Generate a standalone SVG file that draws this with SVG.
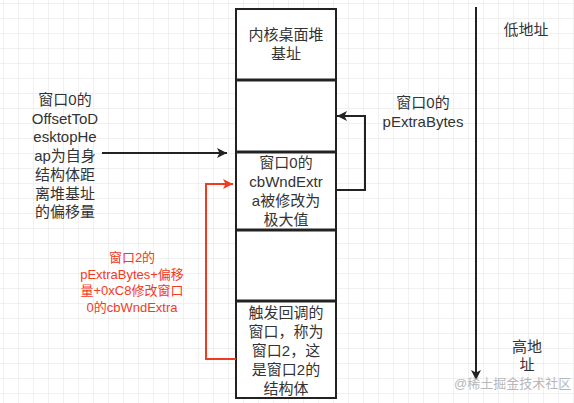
<svg xmlns="http://www.w3.org/2000/svg" width="574" height="403" viewBox="0 0 574 403">
<defs>
<pattern id="grid" x="3" y="3" width="15" height="15" patternUnits="userSpaceOnUse">
<path d="M15 0H0V15" fill="none" stroke="#e4e4e4" stroke-width="1"/>
</pattern>
<marker id="ab" viewBox="0 0 10 10" refX="10" refY="5" markerWidth="10" markerHeight="10" markerUnits="userSpaceOnUse" orient="auto">
<path d="M0 0L10 5L0 10L2.5 5Z" fill="#222"/>
</marker>
<marker id="ar" viewBox="0 0 10 10" refX="10" refY="5" markerWidth="10" markerHeight="10" markerUnits="userSpaceOnUse" orient="auto">
<path d="M0 0L10 5L0 10L2.5 5Z" fill="#f23a1f"/>
</marker>
</defs>
<style>
text{font-family:"Liberation Sans","Noto Sans CJK SC",sans-serif;font-size:15px;fill:#333;text-anchor:middle}
.red{fill:#f23a1f;font-size:13px}
.cell{fill:#fff;stroke:#222;stroke-width:2}
.div{stroke:#222;stroke-width:3}
.wm{fill:#b8b8b8;font-size:13px;text-anchor:start}
</style>
<rect width="574" height="403" fill="#fff"/>
<rect width="574" height="403" fill="url(#grid)"/>
<g id="cell-heap-base">
<rect class="cell" x="236" y="9" width="100" height="71"/>
<text x="286" y="40">内核桌面堆</text>
<text x="286" y="59">基址</text>
</g>
<g id="cell-empty1">
<rect class="cell" x="236" y="80" width="100" height="72"/>
</g>
<g id="cell-cbwndextra">
<rect class="cell" x="236" y="152" width="100" height="78"/>
<text x="286" y="168">窗口0的</text>
<text x="286" y="187">cbWndExtr</text>
<text x="286" y="206">a被修改为</text>
<text x="286" y="225">极大值</text>
</g>
<g id="cell-empty2">
<rect class="cell" x="236" y="230" width="100" height="71"/>
</g>
<g id="cell-window2">
<rect class="cell" x="236" y="301" width="100" height="97"/>
<text x="286" y="318">触发回调的</text>
<text x="286" y="337">窗口，称为</text>
<text x="286" y="356">窗口2，这</text>
<text x="286" y="375">是窗口2的</text>
<text x="286" y="394">结构体</text>
</g>
<g id="dividers">
<path class="div" d="M235 80H337M235 152H337M235 230H337M235 301H337"/>
</g>
<g id="label-offset">
<text x="65" y="105">窗口0的</text>
<text x="65" y="123.5">OffsetToD</text>
<text x="65" y="142">esktopHe</text>
<text x="65" y="161">ap为自身</text>
<text x="65" y="180">结构体距</text>
<text x="65" y="198.5">离堆基址</text>
<text x="65" y="217">的偏移量</text>
</g>
<g id="label-pextrabytes">
<text x="423" y="108">窗口0的</text>
<text x="423" y="127">pExtraBytes</text>
</g>
<g id="label-red">
<text class="red" x="132" y="262">窗口2的</text>
<text class="red" x="132" y="278.5">pExtraBytes+偏移</text>
<text class="red" x="132" y="295">量+0xC8修改窗口</text>
<text class="red" x="132" y="311.5">0的cbWndExtra</text>
</g>
<g id="label-low">
<text x="526" y="35">低地址</text>
</g>
<g id="label-high">
<text x="527" y="352">高地</text>
<text x="527" y="370">址</text>
</g>
<g id="connectors" fill="none" stroke-width="2">
<path d="M102 153H227" stroke="#222" marker-end="url(#ab)"/>
<path d="M336 190H365V116H337" stroke="#222" marker-end="url(#ab)"/>
<path d="M236 359H206V184H233" stroke="#f23a1f" marker-end="url(#ar)"/>
<path d="M476 7V380" stroke="#222" marker-end="url(#ab)"/>
</g>
<text class="wm" x="454" y="388">@稀土掘金技术社区</text>
</svg>
